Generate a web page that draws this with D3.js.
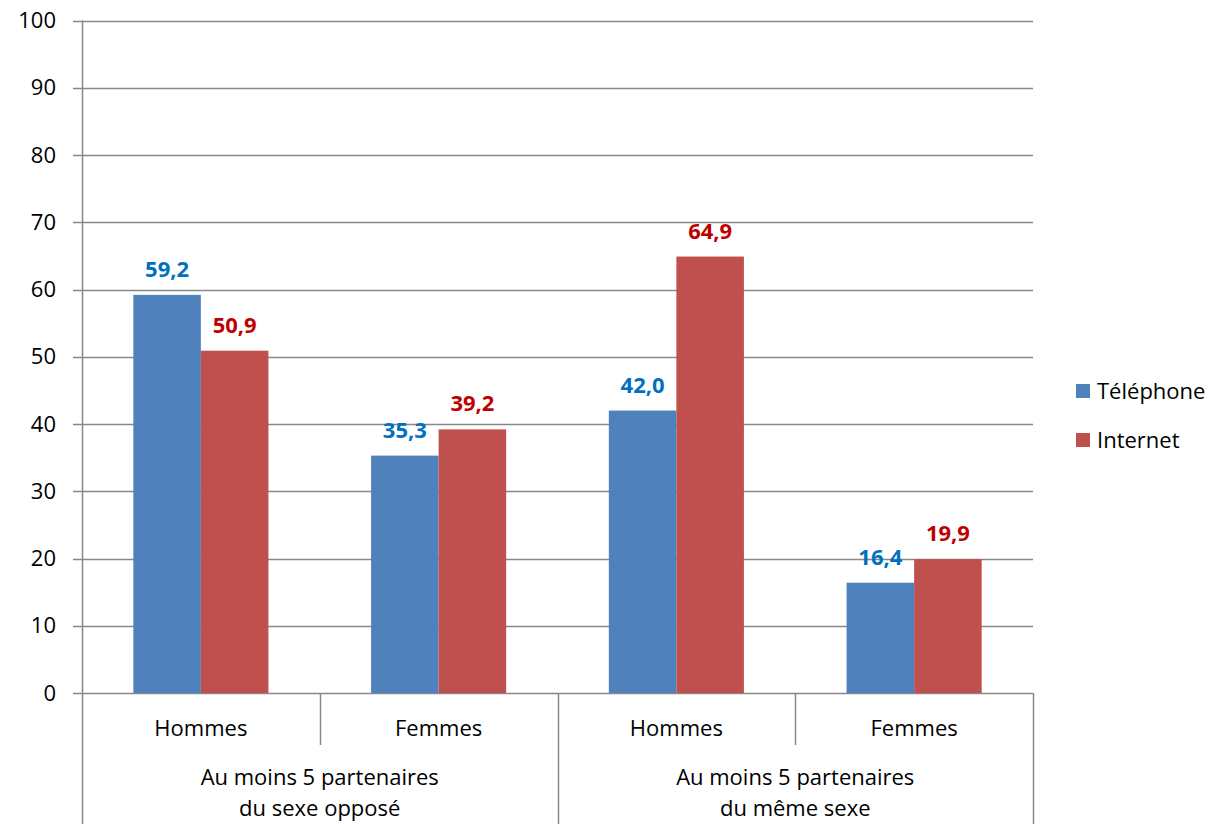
<!DOCTYPE html>
<html>
<head>
<meta charset="utf-8">
<script src="https://cdn.jsdelivr.net/npm/d3@7"></script>
<style>
  html, body { margin: 0; padding: 0; background: #fff; }
  svg { display: block; }
  text { font-family: "Open Sans", "Noto Sans", sans-serif; }
</style>
</head>
<body>
<svg id="chart" width="1214" height="824"></svg>
<script>
// Share of respondents by survey mode (%)
const groups = ["Au moins 5 partenaires|du sexe opposé", "Au moins 5 partenaires|du même sexe"];
const subCategories = ["Hommes", "Femmes", "Hommes", "Femmes"];
const seriesNames = ["Téléphone", "Internet"];
const telephone = [59.2, 35.3, 42.0, 16.4];
const internet = [50.9, 39.2, 64.9, 19.9];
const yTicks = [0, 10, 20, 30, 40, 50, 60, 70, 80, 90, 100];

const colors = ["#4F81BD", "#C0504D"];
const labelColors = ["#0070C0", "#C00000"];
const gridColor = "#888888";
const fontSize = 22;

const svg = d3.select("#chart");
const plot = { left: 82, right: 1033, top: 20.5, bottom: 693 };

const y = d3.scaleLinear().domain([0, 100]).range([plot.bottom, plot.top]);
const x = d3.scaleBand().domain(d3.range(subCategories.length)).range([plot.left, plot.right]).paddingInner(0).paddingOuter(0);
const xSeries = d3.scaleBand().domain(seriesNames).range([0, x.bandwidth()]).paddingInner(0).paddingOuter(0.76);

// Horizontal gridlines with left tick marks
svg.append("g")
  .selectAll("line")
  .data(yTicks)
  .join("line")
  .attr("x1", plot.left - 9)
  .attr("x2", plot.right)
  .attr("y1", d => Math.round(y(d)) + 0.5)
  .attr("y2", d => Math.round(y(d)) + 0.5)
  .attr("stroke", gridColor)
  .attr("stroke-width", 1.5);

// Y tick labels
svg.append("g")
  .selectAll("text")
  .data(yTicks)
  .join("text")
  .attr("x", 56)
  .attr("y", d => y(d))
  .attr("dy", "0.35em")
  .attr("text-anchor", "end")
  .attr("font-size", fontSize)
  .attr("fill", "#000")
  .text(d => d);

// Bars
const values = [telephone, internet];
const barGroup = svg.append("g");
values.forEach((vals, s) => {
  barGroup.selectAll(null)
    .data(vals)
    .join("rect")
    .attr("x", (d, i) => x(i) + xSeries(seriesNames[s]))
    .attr("width", xSeries.bandwidth())
    .attr("y", d => y(d))
    .attr("height", d => y(0) - y(d))
    .attr("fill", colors[s]);
});

// Value labels above bars
const fmt = v => d3.format(".1f")(v).replace(".", ",");
values.forEach((vals, s) => {
  svg.append("g").selectAll("text")
    .data(vals)
    .join("text")
    .attr("x", (d, i) => x(i) + xSeries(seriesNames[s]) + xSeries.bandwidth() / 2)
    .attr("y", d => y(d) - 18)
    .attr("text-anchor", "middle")
    .attr("font-size", fontSize)
    .attr("font-weight", "bold")
    .attr("fill", labelColors[s])
    .text(d => fmt(d));
});

// Vertical axis line (extends down through the category label area)
svg.append("line")
  .attr("x1", plot.left + 0.5).attr("x2", plot.left + 0.5)
  .attr("y1", plot.top).attr("y2", 824)
  .attr("stroke", gridColor).attr("stroke-width", 1.5);

// Category dividers: short between sub-categories, full between groups
const boundaries = d3.range(1, subCategories.length + 1);
svg.append("g").selectAll("line")
  .data(boundaries)
  .join("line")
  .attr("x1", i => Math.round(x.range()[0] + i * x.bandwidth()) + 0.5)
  .attr("x2", i => Math.round(x.range()[0] + i * x.bandwidth()) + 0.5)
  .attr("y1", plot.bottom)
  .attr("y2", i => (i % 2 === 0 ? 824 : 745))
  .attr("stroke", gridColor)
  .attr("stroke-width", 1.5);

// Sub-category labels
svg.append("g").selectAll("text")
  .data(subCategories)
  .join("text")
  .attr("x", (d, i) => x(i) + x.bandwidth() / 2)
  .attr("y", 728)
  .attr("dy", "0.35em")
  .attr("text-anchor", "middle")
  .attr("font-size", fontSize)
  .attr("fill", "#000")
  .text(d => d);

// Group labels (two lines each)
const gLabels = svg.append("g").selectAll("text")
  .data(groups)
  .join("text")
  .attr("text-anchor", "middle")
  .attr("font-size", fontSize)
  .attr("fill", "#000");
gLabels.each(function (d, gi) {
  const cx = x(gi * 2) + x.bandwidth();
  const lines = d.split("|");
  d3.select(this).selectAll("tspan")
    .data(lines)
    .join("tspan")
    .attr("x", cx)
    .attr("y", (l, li) => 777 + li * 31)
    .attr("dy", "0.35em")
    .text(l => l);
});

// Legend
const legend = svg.append("g").selectAll("g")
  .data(seriesNames)
  .join("g")
  .attr("transform", (d, i) => `translate(1076, ${384 + i * 49})`);
legend.append("rect")
  .attr("width", 14).attr("height", 14)
  .attr("fill", (d, i) => colors[i]);
legend.append("text")
  .attr("x", 21).attr("y", 7)
  .attr("dy", "0.35em")
  .attr("font-size", fontSize)
  .attr("fill", "#000")
  .text(d => d);
</script>
</body>
</html>
